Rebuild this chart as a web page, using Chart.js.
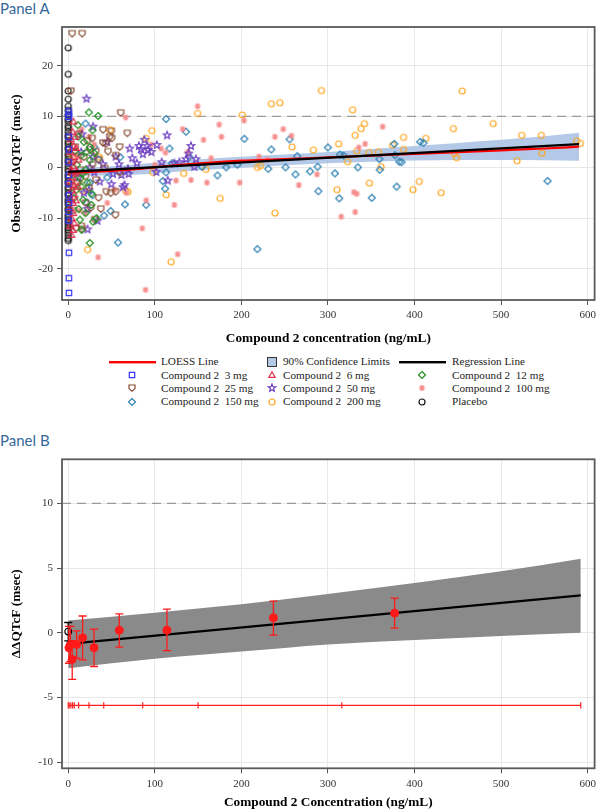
<!DOCTYPE html>
<html>
<head>
<meta charset="utf-8">
<script src="https://cdn.jsdelivr.net/npm/chart.js@4.4.1/dist/chart.umd.min.js"></script>
<style>
  body { margin: 0; background: #fff; width: 600px; height: 811px; position: relative; overflow: hidden; }
  .panel { position: absolute; left: 0; font-family: Lato, 'Open Sans', sans-serif; font-size: 15px; color: #35689a; line-height: 18px; }
  canvas.chart { position: absolute; left: 0; }
  .leg { position: absolute; font-family: 'Liberation Serif', serif; font-size: 11.2px; color: #222; white-space: pre; line-height: 14px; }
  .ico { position: absolute; }
</style>
</head>
<body>
<div class="panel" style="top:-1px">Panel A</div>
<canvas id="chartA" class="chart" width="600" height="350" style="top:0"></canvas>
<div id="legend"></div>
<div class="panel" style="top:431px">Panel B</div>
<canvas id="chartB" class="chart" width="600" height="381" style="top:430px"></canvas>
<script>
// ---------- Panel A data: [concentration ng/mL, observed dQTcF msec] ----------
const dose3mg = [[0.5,11.0],[0.7,10.4],[0.4,9.9],[0.6,6.0],[0.8,3.5],[0.5,1.0],[0.7,-1.5],[0.3,-3.2],[0.6,-5.5],[0.9,-7.0],[0.5,-8.8],[0.4,-10.5],[0.8,-16.8],[0.7,-21.8],[0.8,-24.7]];
const dose6mg = [[5,7.0],[3,5.5],[6,4.2],[2.5,3.0],[7,2.0],[4,1.2],[6,0.3],[3,-0.5],[8,-1.2],[5,-2.0],[2,-2.8],[6.5,-3.5],[4,-4.5],[7,-5.3],[3,-6.2],[5.5,-7.0],[2.5,-8.0],[6,-9.0],[4,-10.0],[7,-11.0],[5.7,-12.3],[3.8,-13.3],[8,6.0],[9,3.8],[10,-0.8],[11,-3.8],[9,-6.5],[12,1.5],[6,9.0],[2,-11.5],[4.5,-1.0]];
const dose12mg = [[23.8,10.8],[34.5,10.1],[28,7.3],[12,6.0],[18,5.0],[25,4.0],[8,3.2],[15,2.3],[24.9,1.4],[10,0.5],[20,-0.5],[6,-1.5],[14,-2.2],[22,-3.0],[15.3,-3.8],[9,-4.5],[27,-5.2],[17.2,-6.4],[26.8,-7.4],[12,-8.2],[20,-9.0],[32.6,-10.0],[13.4,-10.3],[28.7,-10.7],[15.3,-12.3],[24.9,-14.9],[7,-6.0],[30,2.8],[11,8.3],[17,-1.2],[21,3.0]];
const dose25mg = [[4.5,26.3],[16.1,26.3],[3.1,15.0],[60.6,10.7],[68.2,6.7],[40.2,7.4],[49.9,7.1],[47.9,6.0],[50.2,5.7],[27.6,5.7],[40.2,4.8],[43.3,4.6],[59.4,4.0],[31.8,3.1],[46,3.1],[22,5.2],[25,3.5],[12,6.5],[8,4.0],[18,2.0],[35,1.5],[55,2.3],[28,0.5],[14,-0.5],[42,-0.2],[20,-1.8],[32,-2.5],[10,-3.0],[24,-4.0],[49,-5.1],[54.8,-4.8],[44,-4.8],[37.6,-8.2],[54.5,-9.4],[30.7,-10.3],[16.1,-12.2],[15.3,-11.6],[26,-8.0],[6,-8.5],[9,-12.0],[20,-7.0],[35,-6.0],[60,-1.0],[5,1.0]];
const dose50mg = [[21.1,13.5],[28.7,8.0],[71,3.7],[81.6,4.2],[91.3,4.2],[102.3,4.4],[54.8,2.1],[79.3,0.8],[58.6,0.6],[40.2,0.6],[28.7,2.1],[49.9,-3.3],[63.2,-3.9],[33.8,-10.5],[22.3,-12.2],[22.3,-8.2],[61.4,-1.5],[69.8,-1.3],[69,-0.3],[88,5.4],[92,3.4],[86.2,2.6],[114.2,6.3],[115,-2.6],[101.7,-0.9],[122.6,0.8],[128.4,1.0],[136,1.6],[139.1,2.7],[141.8,4.2],[145.6,0.1],[147.5,1.6],[36.4,-2.8],[51.7,-1.3],[15,3.0],[12,-2.0],[18,-5.0],[25,0.0],[45,5.0],[30,-1.0],[16,6.5],[24,-4.5],[96,3.0],[84,3.6],[74,1.8],[108,1.0],[65,-3.5]];
const dose100mg = [[149.4,12.0],[132.2,7.5],[156.3,5.4],[174.3,8.4],[177,6.0],[203.1,9.2],[220.3,2.1],[248.3,7.5],[238.7,6.0],[257.9,6.2],[266.3,-3.5],[198,-3.0],[160.2,-3.0],[141.8,-2.5],[124.5,-2.6],[122.6,-7.4],[126.4,-17.1],[90,-6.5],[85.5,-12.0],[89.3,-24.1],[34.5,-17.7],[107.3,3.7],[112.3,2.9],[67,-5.0],[53.6,-4.4],[66.3,9.8],[15.4,7.5],[12.6,7.0],[363.2,8.0],[342.9,4.6],[335.6,3.9],[287.3,-1.4],[329.9,-4.9],[333.3,-5.2],[331.4,-8.8],[315.3,-9.7],[96,4.5],[138,3.0],[165,1.8],[230,1.5],[8,-4.0],[10,2.5],[20,-9.0],[14,-3.0],[30,4.5],[45,-7.0],[100,0.5],[24,6.0],[13.4,-8.5]];
const dose150mg = [[113,9.5],[136,7.0],[116.9,3.7],[109.2,-2.7],[111.9,-4.2],[113,-1.0],[154.4,0.1],[172.4,-1.6],[182.4,0.0],[195.4,0.5],[203.4,5.6],[218.4,-16.1],[231,-0.3],[234.5,3.5],[251,0.0],[255.6,5.5],[262.5,-1.4],[264.4,2.2],[90,-7.4],[57.5,-14.8],[65.5,-7.3],[49,-8.6],[41.4,-9.5],[20,8.6],[21.1,-6.9],[299.9,3.9],[313.8,2.5],[318,2.3],[288,0.1],[279.3,-0.8],[288.9,-4.7],[308,-1.2],[313,-6.1],[334.5,0.0],[350.6,-6.0],[359.4,1.6],[359.8,-0.5],[376.6,4.6],[377.4,2.4],[379.3,-3.8],[382.4,1.1],[385,1.0],[406.5,5.0],[410.3,4.8],[553.6,-2.7],[30,4.0],[25,-3.0],[35,1.5],[45,-2.0],[60,2.0],[28,-5.5],[140,2.0],[120,0.8]];
const dose200mg = [[292.4,15.1],[328.4,11.3],[455,15.0],[490.8,8.6],[444.8,7.6],[342,8.6],[338.2,7.6],[331.4,6.3],[387.3,5.9],[413,5.7],[523.8,6.3],[546.4,6.3],[587.3,5.2],[591.5,4.7],[312.3,4.6],[283.1,3.4],[333.3,3.2],[347.4,2.9],[358.2,3.0],[374.7,4.4],[387.3,3.5],[445.9,2.7],[448.6,1.9],[547.2,2.8],[518.4,1.3],[322.6,1.1],[361.3,0.1],[347.8,-3.1],[310.4,-4.4],[398.2,-4.4],[405.4,-2.8],[430.6,-5.0],[201,10.3],[149.4,10.6],[234.5,12.5],[244.4,12.7],[258.6,4.0],[96.6,7.2],[90,5.7],[97.7,-1.0],[113,-5.4],[133.3,-1.2],[159,-0.4],[175.5,-6.1],[218.4,0.0],[222,0.3],[238.7,-9.0],[118.8,-18.6],[22.3,-16.2],[66.3,-4.6],[69,-4.8],[48,7.4],[16.1,-4.6],[5,2.1],[36,2.0],[5,-3.0]];
const placeboConc = 0;
const placeboY = [23.5,18.3,15.0,13.4,12.0,11.2,10.3,9.5,9.0,8.2,7.7,7.0,6.3,5.9,5.1,4.6,3.9,3.5,2.7,2.2,1.5,1.0,0.3,-0.3,-0.8,-1.5,-2.0,-2.7,-3.1,-3.9,-4.4,-5.1,-5.5,-6.3,-6.8,-7.3,-8.1,-8.5,-9.3,-9.8,-10.3,-10.8,-11.3,-11.9,-12.3,-12.8,-13.4,-14.0,-14.4];

const loessX = [0,25,50,75,100,130,160,200,250,300,350,400,450,500,550,590];
const loessY = [-1.0,-0.9,-0.7,-0.4,0.0,0.5,0.9,1.3,1.6,1.95,2.3,2.65,3.0,3.35,3.7,4.05];
const regAX = [0,590];
const regAY = [-0.9,4.55];
const bandAX = [0,50,100,150,200,250,300,350,400,450,500,550,590];
const bandAUpper = [-0.3,0.2,0.9,1.6,2.1,2.5,3.0,3.6,4.2,4.8,5.4,6.1,6.8];
const bandALower = [-1.6,-1.6,-1.2,-0.6,-0.1,0.4,0.8,1.1,1.35,1.45,1.45,1.4,1.3];

// ---------- Panel B data ----------
const binConc = [0.8,2.5,4.6,9.7,16.6,29.8,59,114,237,377];
const binMean = [-1.15,-0.9,-2.05,-0.9,-0.38,-1.15,0.2,0.2,1.16,1.52];
const binLow = [-2.35,-2.2,-3.6,-1.96,-2.09,-2.6,-1.1,-1.37,-0.18,0.36];
const binHigh = [0.5,0.5,-0.6,0.15,1.3,0.28,1.47,1.83,2.45,2.68];
const placeboB = { x: 0, y: 0.1, low: -0.62, high: 0.8 };
const regBX = [0,592];
const regBY = [-0.85,2.89];
const bandBX = [0,100,200,300,400,500,592];
const bandBUpper = [0.95,1.55,2.2,3.0,3.85,4.75,5.72];
const bandBLower = [-2.73,-2.0,-1.45,-0.9,-0.55,-0.25,0.0];
const rugConc = [0,1,3,5,7,12,24,41,86,150,316,592];
const rugY = -5.6;

const xTicks = [0,100,200,300,400,500,600];
const yTicksA = [-20,-10,0,10,20];
const yTicksB = [-10,-5,0,5,10];
const refLineY = 10;

// ---------- helpers ----------
const SERIF = "'Liberation Serif', serif";

function drawMarker(g, shape, cx, cy, color) {
    g.strokeStyle = color;
    g.lineWidth = 1.2;
    g.beginPath();
    if (shape === 'square') {
        g.rect(cx - 2.7, cy - 2.7, 5.4, 5.4);
    } else if (shape === 'triangle') {
        g.moveTo(cx, cy - 3.3); g.lineTo(cx + 3.1, cy + 2.3); g.lineTo(cx - 3.1, cy + 2.3); g.closePath();
    } else if (shape === 'diamond') {
        g.moveTo(cx, cy - 3.5); g.lineTo(cx + 3.5, cy); g.lineTo(cx, cy + 3.5); g.lineTo(cx - 3.5, cy); g.closePath();
    } else if (shape === 'shield') {
        g.moveTo(cx - 3, cy - 3); g.lineTo(cx + 3, cy - 3); g.lineTo(cx + 3, cy + 0.6);
        g.lineTo(cx, cy + 3.3); g.lineTo(cx - 3, cy + 0.6); g.closePath();
    } else if (shape === 'star') {
        for (let k = 0; k < 10; k++) {
            const rr = k % 2 ? 1.7 : 3.9;
            const a = -Math.PI / 2 + k * Math.PI / 5;
            const px = cx + rr * Math.cos(a), py = cy + rr * Math.sin(a);
            if (k) g.lineTo(px, py); else g.moveTo(px, py);
        }
        g.closePath();
    } else if (shape === 'asterisk') {
        for (let k = 0; k < 4; k++) {
            const a = k * Math.PI / 4;
            g.moveTo(cx + 3.3 * Math.cos(a), cy + 3.3 * Math.sin(a));
            g.lineTo(cx - 3.3 * Math.cos(a), cy - 3.3 * Math.sin(a));
        }
    } else if (shape === 'circle') {
        g.arc(cx, cy, 3, 0, Math.PI * 2);
    }
    g.stroke();
}

function markerCanvas(shape, color) {
    const c = document.createElement('canvas');
    c.width = 12; c.height = 12;
    drawMarker(c.getContext('2d'), shape, 6, 6, color);
    return c;
}

const toXY = pts => pts.map(p => ({ x: p[0], y: p[1] }));
const zipXY = (xs, ys) => xs.map((x, i) => ({ x, y: ys[i] }));

const groups = [
    { label: 'Compound 2  3 mg', pts: dose3mg, shape: 'square', color: '#3434f2' },
    { label: 'Compound 2  6 mg', pts: dose6mg, shape: 'triangle', color: '#e02a4c' },
    { label: 'Compound 2  12 mg', pts: dose12mg, shape: 'diamond', color: '#1f8f1f' },
    { label: 'Compound 2  25 mg', pts: dose25mg, shape: 'shield', color: '#87492e' },
    { label: 'Compound 2  50 mg', pts: dose50mg, shape: 'star', color: '#6a3cc0' },
    { label: 'Compound 2  100 mg', pts: dose100mg, shape: 'asterisk', color: '#f58a8a' },
    { label: 'Compound 2  150 mg', pts: dose150mg, shape: 'diamond', color: '#2f80b2' },
    { label: 'Compound 2  200 mg', pts: dose200mg, shape: 'circle', color: '#ffa51e' },
    { label: 'Placebo', pts: placeboY.map(y => [placeboConc, y]), shape: 'circle', color: '#111' }
];

// frame around plot area
const framePlugin = {
    id: 'frame',
    afterDraw(chart) {
        const { ctx, chartArea: a } = chart;
        ctx.save();
        ctx.strokeStyle = '#5a5a5a';
        ctx.lineWidth = 1.8;
        ctx.strokeRect(a.left, a.top, a.right - a.left, a.bottom - a.top);
        ctx.restore();
    }
};

// dashed reference line at 10 msec
const refLinePlugin = {
    id: 'refLine',
    beforeDatasetsDraw(chart) {
        const { ctx, chartArea: a, scales } = chart;
        const py = scales.y.getPixelForValue(refLineY);
        ctx.save();
        ctx.strokeStyle = '#9a9a9a';
        ctx.lineWidth = 1.3;
        ctx.setLineDash([9, 6]);
        ctx.beginPath();
        ctx.moveTo(a.left, py);
        ctx.lineTo(a.right, py);
        ctx.stroke();
        ctx.restore();
    }
};

// vertical error bars for datasets carrying errLow / errHigh
const errorBarPlugin = {
    id: 'errorBars',
    afterDatasetsDraw(chart) {
        const { ctx, scales: { x, y } } = chart;
        chart.data.datasets.forEach(ds => {
            if (!ds.errLow) return;
            ctx.save();
            ctx.strokeStyle = ds.errColor;
            ctx.lineWidth = 1.3;
            ds.data.forEach((p, j) => {
                const px = x.getPixelForValue(p.x);
                const lo = y.getPixelForValue(ds.errLow[j]);
                const hi = y.getPixelForValue(ds.errHigh[j]);
                ctx.beginPath();
                ctx.moveTo(px, lo); ctx.lineTo(px, hi);
                ctx.moveTo(px - 4, lo); ctx.lineTo(px + 4, lo);
                ctx.moveTo(px - 4, hi); ctx.lineTo(px + 4, hi);
                ctx.stroke();
            });
            ctx.restore();
        });
    }
};

function axisOptions(ticks, min, max, title, boxSize, isX, titlePad) {
    return {
        type: 'linear',
        min, max,
        afterBuildTicks: s => { s.ticks = ticks.map(v => ({ value: v })); },
        afterFit: s => { if (isX) s.height = boxSize; else s.width = boxSize; },
        grid: { color: '#e8e8e8', tickColor: '#555', tickLength: 5, lineWidth: 1 },
        border: { display: false },
        ticks: { font: { family: SERIF, size: 11 }, color: '#333', padding: 4, autoSkip: false, maxRotation: 0 },
        title: {
            display: true, text: title, color: '#000',
            font: { family: SERIF, size: 13.3, weight: 'bold' },
            padding: isX ? { top: 0, bottom: titlePad } : { top: titlePad, bottom: 0 }
        }
    };
}

// ---------- Panel A ----------
const datasetsA = [
    { type: 'scatter', label: 'Regression Line', data: zipXY(regAX, regAY), showLine: true, borderColor: '#000', borderWidth: 2.2, pointRadius: 0, fill: false, order: 0 },
    { type: 'scatter', label: 'LOESS Line', data: zipXY(loessX, loessY), showLine: true, borderColor: '#ff0000', borderWidth: 2.2, pointRadius: 0, fill: false, cubicInterpolationMode: 'monotone', order: 1 }
];
groups.forEach((g, i) => {
    datasetsA.push({
        type: 'scatter', label: g.label, data: toXY(g.pts),
        pointStyle: markerCanvas(g.shape, g.color), pointRadius: 4,
        borderColor: g.color, order: 2 + i
    });
});
datasetsA.push(
    { type: 'scatter', label: 'band lower', data: zipXY(bandAX, bandALower), showLine: true, borderWidth: 0, pointRadius: 0, fill: false, cubicInterpolationMode: 'monotone', order: 20 },
    { type: 'scatter', label: '90% Confidence Limits', data: zipXY(bandAX, bandAUpper), showLine: true, borderWidth: 0, pointRadius: 0, fill: '-1', backgroundColor: 'rgba(160,188,225,0.8)', cubicInterpolationMode: 'monotone', order: 20 }
);

new Chart(document.getElementById('chartA'), {
    type: 'scatter',
    data: { datasets: datasetsA },
    options: {
        responsive: false, animation: false, devicePixelRatio: 1,
        layout: { padding: { left: 0, right: 2.5, top: 27, bottom: 0 } },
        plugins: { legend: { display: false }, tooltip: { enabled: false } },
        scales: {
            x: axisOptions(xTicks, -7.2, 608, 'Compound 2 concentration (ng/mL)', 50, true, 3.5),
            y: axisOptions(yTicksA, -26.1, 27.6, 'Observed \u0394QTcF (msec)', 62, false, 9)
        }
    },
    plugins: [framePlugin, refLinePlugin]
});

// ---------- Legend ----------
const legendItems = [
    { row: 0, col: 0, text: 'LOESS Line', icon: 'line', color: '#ff0000' },
    { row: 0, col: 1, text: '90% Confidence Limits', icon: 'fill', color: '#b5c9e6' },
    { row: 0, col: 2, text: 'Regression Line', icon: 'line', color: '#000' }
];
groups.forEach((g, i) => {
    legendItems.push({ row: 1 + Math.floor(i / 3), col: i % 3, text: g.label, icon: g.shape, color: g.color });
});
const colIcon = [132, 272, 422];
const colText = [161, 283, 452];
const rowY = [361.7, 375, 388.3, 401.6];
const legendBox = document.getElementById('legend');
legendItems.forEach(it => {
    const cy = rowY[it.row];
    const t = document.createElement('div');
    t.className = 'leg';
    t.textContent = it.text;
    t.style.left = colText[it.col] + 'px';
    t.style.top = (cy - 7.5) + 'px';
    legendBox.appendChild(t);
    const c = document.createElement('canvas');
    c.className = 'ico';
    const g = c.getContext('2d');
    if (it.icon === 'line') {
        c.width = 47; c.height = 6;
        c.style.left = (colIcon[it.col] - 23.5) + 'px';
        c.style.top = (cy - 3) + 'px';
        g.fillStyle = it.color;
        g.fillRect(0, 2, 47, 2.4);
    } else if (it.icon === 'fill') {
        c.width = 12; c.height = 12;
        c.style.left = (colIcon[it.col] - 6) + 'px';
        c.style.top = (cy - 6) + 'px';
        g.fillStyle = it.color;
        g.fillRect(1, 1, 10, 10);
        g.strokeStyle = '#333';
        g.lineWidth = 1;
        g.strokeRect(1.5, 1.5, 9, 9);
    } else {
        c.width = 12; c.height = 12;
        c.style.left = (colIcon[it.col] - 6) + 'px';
        c.style.top = (cy - 6) + 'px';
        drawMarker(g, it.icon, 6, 6, it.color);
    }
    legendBox.appendChild(c);
});

// ---------- Panel B ----------
new Chart(document.getElementById('chartB'), {
    type: 'scatter',
    data: {
        datasets: [
            { type: 'scatter', label: 'Placebo', data: [{ x: placeboB.x, y: placeboB.y }], errLow: [placeboB.low], errHigh: [placeboB.high], errColor: '#000',
              pointStyle: 'circle', pointRadius: 3.3, borderColor: '#000', borderWidth: 1.2, backgroundColor: 'rgba(0,0,0,0)', order: 0 },
            { type: 'scatter', label: 'Binned', data: zipXY(binConc, binMean), errLow: binLow, errHigh: binHigh, errColor: '#ff1a1a',
              pointStyle: 'circle', pointRadius: 4, borderColor: '#ff1a1a', backgroundColor: '#ff1a1a', borderWidth: 1, order: 1 },
            { type: 'scatter', label: 'Rug', data: rugConc.map(x => ({ x, y: rugY })), showLine: true, borderColor: '#ff2020', borderWidth: 1.2,
              pointStyle: 'line', pointRotation: 90, pointRadius: 3.2, pointBorderColor: '#ff2020', pointBorderWidth: 1.2, fill: false, order: 2 },
            { type: 'scatter', label: 'Regression', data: zipXY(regBX, regBY), showLine: true, borderColor: '#000', borderWidth: 2.2, pointRadius: 0, fill: false, order: 3 },
            { type: 'scatter', label: 'band lower', data: zipXY(bandBX, bandBLower), showLine: true, borderWidth: 0, pointRadius: 0, fill: false, cubicInterpolationMode: 'monotone', order: 10 },
            { type: 'scatter', label: 'band upper', data: zipXY(bandBX, bandBUpper), showLine: true, borderWidth: 0, pointRadius: 0, fill: '-1', backgroundColor: '#8a8a8a', cubicInterpolationMode: 'monotone', order: 10 }
        ]
    },
    options: {
        responsive: false, animation: false, devicePixelRatio: 1,
        layout: { padding: { left: 0, right: 2.5, top: 29.3, bottom: 0 } },
        plugins: { legend: { display: false }, tooltip: { enabled: false } },
        scales: {
            x: axisOptions(xTicks, -7.2, 608, 'Compound 2 Concentration (ng/mL)', 42.7, true, 0),
            y: axisOptions(yTicksB, -10.46, 13.4, '\u0394\u0394QTcF (msec)', 62, false, 9)
        }
    },
    plugins: [framePlugin, refLinePlugin, errorBarPlugin]
});
</script>
</body>
</html>
